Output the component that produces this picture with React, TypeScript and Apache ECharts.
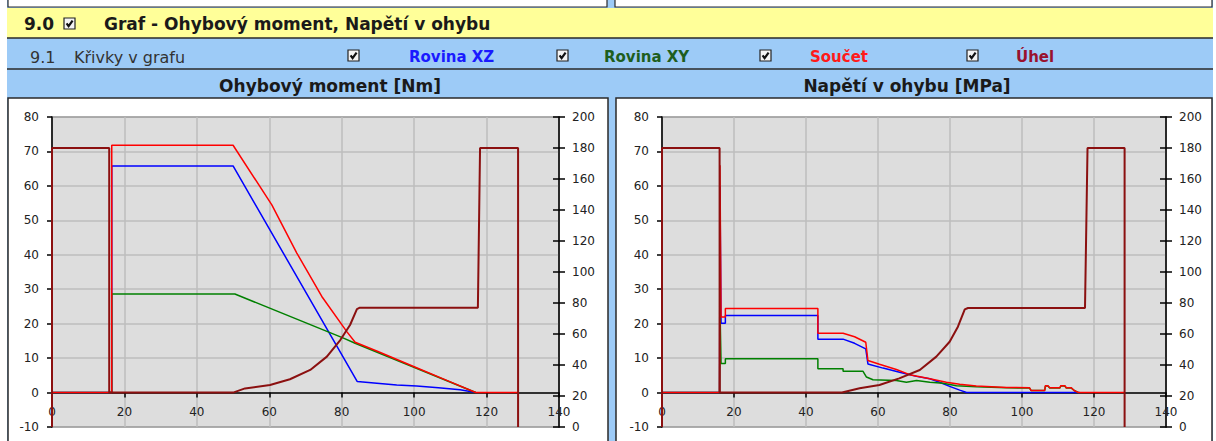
import React, { useEffect, useRef } from "react";
import * as echarts from "echarts";

type P = [number, number];

// ---- axis ticks ----
const xTicks = [0, 20, 40, 60, 80, 100, 120, 140];
const leftTicks = [-10, 0, 10, 20, 30, 40, 50, 60, 70, 80];
const rightTicks = [0, 20, 40, 60, 80, 100, 120, 140, 160, 180, 200];

// ---- texts ----
const sectionNo = "9.0";
const sectionTitle = "Graf - Ohybový moment, Napětí v ohybu";
const rowNo = "9.1";
const rowTitle = "Křivky v grafu";
const seriesNames = ["Rovina XZ", "Rovina XY", "Součet", "Úhel"];
const chartTitles = ["Ohybový moment [Nm]", "Napětí v ohybu [MPa]"];

// ---- left chart: bending moment [Nm] ----
const momentXZ: P[] = [
  [0, 0], [16.5, 0], [16.5, 65.8], [50, 65.8], [84.3, 3.2], [89.7, 2.7], [95.2, 2.2],
  [100.7, 1.9], [106.7, 1.4], [112.7, 0.8], [117, 0],
];
const momentXY: P[] = [
  [0, 0], [16.5, 0], [16.5, 28.6], [50.5, 28.6], [80.5, 15.8], [83.7, 14.3], [117, 0],
];
const momentSum: P[] = [
  [0, 0], [16.5, 0], [16.5, 71.8], [50, 71.8], [60.7, 54.5], [67.6, 40.5], [74.5, 27.9],
  [81.4, 17.7], [83.7, 14.6], [90, 11.9], [100, 7.5], [110, 3.1], [117, 0], [128.7, 0],
];
const momentAngle: P[] = [
  [0, 0], [0, 180], [15.8, 180], [15.8, 22.2], [50, 22.2], [53.3, 24.9], [60.2, 27.1],
  [65.7, 30.8], [71.3, 36.8], [75.9, 45.4], [79.6, 56.1], [82.3, 65.8], [84.2, 76.1],
  [85, 77], [117.6, 77], [118.2, 180], [128.7, 180], [128.7, 0],
];

// ---- right chart: bending stress [MPa] ----
const stressXZ: P[] = [
  [0, 0], [16.0, 0], [16.1, 60], [16.4, 20.1], [17.6, 20.1], [17.6, 22.4], [43.3, 22.4],
  [43.3, 15.5], [50.3, 15.5], [53.5, 14.3], [56.6, 12.7], [57.2, 8.3], [61.4, 7.1],
  [66, 5.9], [70.7, 4.7], [74.4, 4.0], [77.1, 3.0], [79.9, 1.8], [82.7, 0.7], [84.6, 0],
  [116, 0],
];
const stressXY: P[] = [
  [0, 0], [16.0, 0], [16.1, 25], [16.4, 8.4], [17.6, 8.4], [17.6, 9.8], [43.3, 9.8],
  [43.3, 6.9], [50.3, 6.9], [50.3, 6.2], [55.8, 6.2], [56.8, 4.5], [58.6, 3.7],
  [65.1, 3.5], [67.9, 3.0], [70.7, 3.5], [74.4, 3.0], [78.1, 2.7], [81.8, 2.0],
  [87.3, 1.7], [95.7, 1.4], [102.1, 1.3], [102.5, 0.6], [106.3, 0.6], [106.5, 1.9],
  [107.2, 1.9], [107.7, 1.3], [110.5, 1.3], [110.8, 1.9], [111.9, 1.9], [112.3, 1.3],
  [113.7, 1.3], [114.5, 0.6], [115.7, 0],
];
const stressSum: P[] = [
  [0, 0], [16.0, 0], [16.1, 66], [16.4, 21.9], [17.6, 21.9], [17.6, 24.4], [43.3, 24.4],
  [43.3, 17.2], [50.3, 17.2], [53.5, 16.2], [56.6, 14.6], [57.2, 9.3], [60.4, 8.2],
  [65.1, 6.7], [68.8, 5.2], [73.4, 4.2], [79, 3.0], [82.7, 2.4], [87.3, 1.9],
  [95.7, 1.5], [102.1, 1.4], [102.5, 0.6], [106.3, 0.6], [106.5, 2.0], [107.2, 2.0],
  [107.7, 1.4], [110.5, 1.4], [110.8, 2.0], [111.9, 2.0], [112.3, 1.4], [113.7, 1.4],
  [114.5, 0.6], [115.7, 0], [128.5, 0],
];
const stressAngle: P[] = [
  [0, 0], [0, 180], [16.0, 180], [16.0, 22.2], [50, 22.2], [54.9, 25], [60.4, 27.1],
  [65.9, 31.4], [71.6, 36.8], [76.2, 45.4], [79.9, 55], [82.2, 64.7], [84.1, 75.9],
  [85, 76.8], [117.5, 76.8], [118.2, 180], [128.5, 180], [128.5, 0],
];

const FONT = "DejaVu Sans";
const COLORS = ["#0000ff", "#008000", "#ff0000", "#8b1010"];
const LABEL_COLORS = ["#1a1aff", "#1e5e1e", "#ff1a1a", "#99112e"];
const BLUE = "#9dcbf7";
const YELLOW = "#ffff99";
const FRAME = "#2a2a2a";
const GRID_BG = "#dddddd";
const GRID_LINE = "#bdbdbd";

const GRID_TOP = 117;
const GRID_H = 310;

const last = (a: number[]) => a[a.length - 1];

function xAxisFor(g: number) {
  // the x axis sits on the zero of the left value axis
  const zeroOffset = -GRID_H * ((0 - leftTicks[0]) / (last(leftTicks) - leftTicks[0]));
  return {
    gridIndex: g,
    type: "value",
    position: "bottom",
    offset: zeroOffset,
    min: xTicks[0],
    max: last(xTicks),
    interval: xTicks[1] - xTicks[0],
    axisLine: { show: true, onZero: false, lineStyle: { color: "#000", width: 1.5 } },
    axisTick: { show: true, inside: false, length: 5, lineStyle: { color: "#000", width: 1.5 } },
    axisLabel: { show: true, margin: 13, color: "#222", fontFamily: FONT, fontSize: 12, showMinLabel: true, showMaxLabel: true },
    splitLine: { show: true, lineStyle: { color: GRID_LINE, width: 1.5 } },
  };
}

function yAxesFor(g: number) {
  const lab = { color: "#222", fontFamily: FONT, fontSize: 12 };
  return [
    {
      gridIndex: g,
      type: "value",
      position: "left",
      min: leftTicks[0],
      max: last(leftTicks),
      interval: leftTicks[1] - leftTicks[0],
      axisLine: { show: true, onZero: false, lineStyle: { color: "#000", width: 1.5 } },
      axisTick: { show: true, inside: false, length: 5, lineStyle: { color: "#000", width: 1.5 } },
      axisLabel: { ...lab, margin: 13 },
      splitLine: { show: true, lineStyle: { color: GRID_LINE, width: 1.5 } },
    },
    {
      gridIndex: g,
      type: "value",
      position: "right",
      min: rightTicks[0],
      max: last(rightTicks),
      interval: rightTicks[1] - rightTicks[0],
      axisLine: { show: true, onZero: false, lineStyle: { color: "#000", width: 1.5 } },
      axisTick: { show: true, inside: false, length: 6, lineStyle: { color: "#000", width: 1.5 } },
      axisLabel: { ...lab, margin: 13 },
      splitLine: { show: false },
    },
    {
      gridIndex: g,
      type: "value",
      position: "right",
      min: rightTicks[0],
      max: last(rightTicks),
      interval: rightTicks[1] - rightTicks[0],
      axisLine: { show: false, onZero: false },
      axisTick: { show: true, inside: true, length: 6, lineStyle: { color: "#000", width: 1.5 } },
      axisLabel: { show: false },
      splitLine: { show: false },
    },
  ];
}

function line(name: string, data: P[], color: string, xi: number, yi: number, width: number) {
  return {
    type: "line",
    name,
    data,
    xAxisIndex: xi,
    yAxisIndex: yi,
    showSymbol: false,
    symbol: "none",
    clip: false,
    silent: true,
    lineStyle: { color, width },
    itemStyle: { color },
    emphasis: { disabled: true },
  };
}

function text(t: string, x: number, y: number, font: string, fill: string, align = "left") {
  return {
    type: "text",
    x,
    y,
    z: 20,
    silent: true,
    style: { text: t, font, fill, align, verticalAlign: "middle", textAlign: align, textVerticalAlign: "middle" },
  };
}

function checkbox(x: number, y: number) {
  return {
    type: "group",
    x,
    y,
    z: 20,
    silent: true,
    children: [
      { type: "rect", z: 20, shape: { x: 0, y: 0, width: 11, height: 11 }, style: { fill: "#f4f4f4", stroke: "#222", lineWidth: 1.2 } },
      { type: "polyline", z: 21, shape: { points: [[2.6, 5.4], [4.6, 8.2], [8.6, 2.6]] }, style: { fill: null, stroke: "#111", lineWidth: 2.2 } },
    ],
  };
}

function hline(x1: number, x2: number, y: number, w = 1.5) {
  return { type: "line", z: -2, silent: true, shape: { x1, y1: y, x2, y2: y }, style: { stroke: FRAME, lineWidth: w } };
}

function buildOption() {
  const boldHeader = `bold 17px ${FONT}`;
  const normal = `16px ${FONT}`;
  const boldLegend = `bold 15px ${FONT}`;
  const boldTitle = `bold 17px ${FONT}`;
  const graphics: any[] = [
    { type: "rect", z: -10, silent: true, shape: { x: 7, y: 0, width: 1206, height: 441 }, style: { fill: BLUE } },
    { type: "rect", z: -9, silent: true, shape: { x: 8, y: -10, width: 599, height: 17 }, style: { fill: "#fff", stroke: FRAME, lineWidth: 1.2 } },
    { type: "rect", z: -9, silent: true, shape: { x: 615, y: -10, width: 597, height: 17 }, style: { fill: "#fff", stroke: FRAME, lineWidth: 1.2 } },
    { type: "rect", z: -9, silent: true, shape: { x: 7, y: 8, width: 1206, height: 30 }, style: { fill: YELLOW } },
    hline(7, 1213, 38),
    hline(7, 1213, 69),
    { type: "rect", z: -8, silent: true, shape: { x: 8, y: 98, width: 600, height: 400 }, style: { fill: "#fff", stroke: FRAME, lineWidth: 1.5 } },
    { type: "rect", z: -8, silent: true, shape: { x: 616, y: 98, width: 596, height: 400 }, style: { fill: "#fff", stroke: FRAME, lineWidth: 1.5 } },
    text(sectionNo, 24, 24, boldHeader, "#1a1a1a"),
    checkbox(64, 18),
    text(sectionTitle, 104, 24, boldHeader, "#1a1a1a"),
    text(rowNo, 30, 57, normal, "#333"),
    text(rowTitle, 74, 57, normal, "#333"),
    checkbox(348, 50),
    text(seriesNames[0], 409, 57, boldLegend, LABEL_COLORS[0]),
    checkbox(557, 50),
    text(seriesNames[1], 604, 57, boldLegend, LABEL_COLORS[1]),
    checkbox(760, 50),
    text(seriesNames[2], 810, 57, boldLegend, LABEL_COLORS[2]),
    checkbox(967, 50),
    text(seriesNames[3], 1016, 57, boldLegend, LABEL_COLORS[3]),
    text(chartTitles[0], 330, 86, boldTitle, "#1a1a1a", "center"),
    text(chartTitles[1], 907, 86, boldTitle, "#1a1a1a", "center"),
  ];

  const gridCommon = { show: true, backgroundColor: GRID_BG, borderColor: "#000", borderWidth: 1.2, containLabel: false };

  return {
    animation: false,
    backgroundColor: "#ffffff",
    grid: [
      { ...gridCommon, left: 52, top: GRID_TOP, width: 507, height: GRID_H },
      { ...gridCommon, left: 662, top: GRID_TOP, width: 504, height: GRID_H },
    ],
    xAxis: [xAxisFor(0), xAxisFor(1)],
    yAxis: [...yAxesFor(0), ...yAxesFor(1)],
    series: [
      line(seriesNames[0], momentXZ, COLORS[0], 0, 0, 1.5),
      line(seriesNames[1], momentXY, COLORS[1], 0, 0, 1.5),
      line(seriesNames[2], momentSum, COLORS[2], 0, 0, 1.5),
      line(seriesNames[3], momentAngle, COLORS[3], 0, 1, 2),
      line(seriesNames[0], stressXZ, COLORS[0], 1, 3, 1.5),
      line(seriesNames[1], stressXY, COLORS[1], 1, 3, 1.5),
      line(seriesNames[2], stressSum, COLORS[2], 1, 3, 1.5),
      line(seriesNames[3], stressAngle, COLORS[3], 1, 4, 2),
    ],
    graphic: { elements: graphics },
  };
}

export default function App() {
  const ref = useRef<HTMLDivElement>(null);
  useEffect(() => {
    if (!ref.current) return;
    const chart = echarts.init(ref.current, null, { renderer: "svg" });
    chart.setOption(buildOption() as any);
    return () => chart.dispose();
  }, []);
  return <div ref={ref} style={{ position: "fixed", left: 0, top: 0, width: 1216, height: 441 }} />;
}
